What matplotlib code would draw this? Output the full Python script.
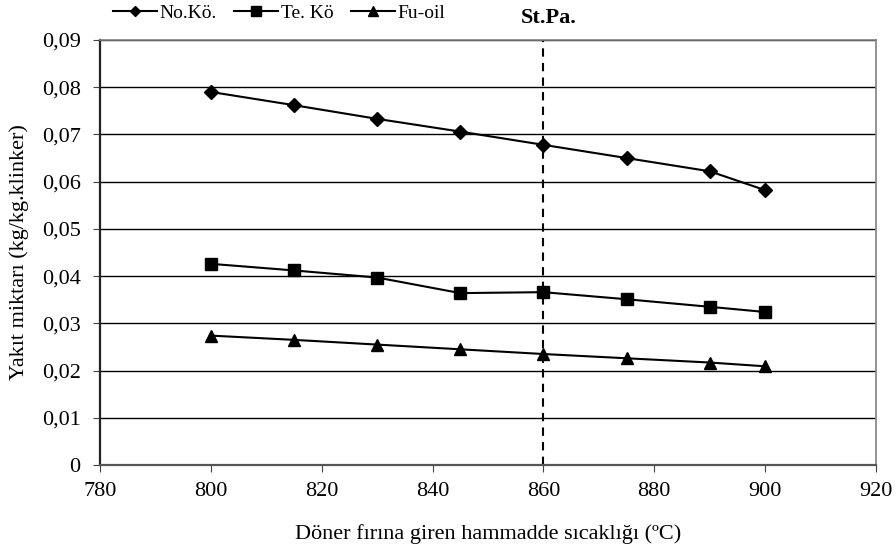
import matplotlib
matplotlib.use('Agg')
import matplotlib.pyplot as plt
from matplotlib.ticker import FuncFormatter, MultipleLocator

plt.rcParams['font.family'] = ['Liberation Serif', 'DejaVu Serif']

# sicaklik (C)
temps = [800, 815, 830, 845, 860, 875, 890, 900]
no_ko = [0.0790, 0.0762, 0.0733, 0.0706, 0.0678, 0.0650, 0.0622, 0.0582]
te_ko = [0.0426, 0.0412, 0.0397, 0.0364, 0.0366, 0.0351, 0.0335, 0.0324]
fu_oil = [0.0274, 0.0265, 0.0255, 0.0245, 0.0235, 0.0226, 0.0217, 0.0209]
labels = ['No.Kö.', 'Te. Kö', 'Fu-oil']
st_pa = 860

W, H = 896, 552
fig = plt.figure(figsize=(W / 100, H / 100), dpi=100)
# eksen kutusu (piksel olcumlerinden)
ax = fig.add_axes([100 / W, 1 - 465 / H, 776 / W, 425 / H])

ax.plot(temps, no_ko, color='black', lw=1.5, marker='D', ms=7, label=labels[0])
ax.plot(temps, te_ko, color='black', lw=1.5, marker='s', ms=9, label=labels[1])
ax.plot(temps, fu_oil, color='black', lw=1.5, marker='^', ms=9, label=labels[2])
ax.axvline(st_pa, color='black', lw=1.5, ls=(0, (4, 3)))
ax.text(st_pa + 1, 0.0925, 'St.Pa.', ha='center', va='bottom', fontsize=16, fontweight='bold')

ax.set_xlim(780, 920)
ax.set_ylim(0, 0.09)
ax.xaxis.set_major_locator(MultipleLocator(20))
ax.yaxis.set_major_locator(MultipleLocator(0.01))

def fmt(v, pos):
  if abs(v) < 1e-9:
    return '0'
  return ('%.2f' % v).replace('.', ',')
ax.yaxis.set_major_formatter(FuncFormatter(fmt))

ax.grid(axis='y', color='black', lw=1)
ax.set_axisbelow(True)
ax.tick_params(labelsize=16, direction='out', length=5, color='#444444')
ax.tick_params(axis='y', pad=9)
ax.tick_params(axis='x', pad=7)
for s in ax.spines.values():
  s.set_color('#808080')
  s.set_linewidth(1.2)
ax.spines['left'].set_color('#222222')
ax.spines['left'].set_linewidth(1.6)
ax.spines['bottom'].set_color('#555555')
ax.spines['bottom'].set_linewidth(1.6)

ax.set_xlabel('Döner fırına giren hammadde sıcaklığı (\u00baC)', fontsize=16)
ax.set_ylabel('Yakıt miktarı (kg/kg.klinker)', fontsize=16)
ax.xaxis.set_label_coords(0.5, -0.140)
ax.yaxis.set_label_coords(-0.092, 0.5)

fig.legend(loc='center left', bbox_to_anchor=(113 / W, 1 - 13 / H), ncol=3, frameon=False,
           fontsize=14, markerscale=0.75, handlelength=2.25, handletextpad=0.15,
           columnspacing=0.9, borderaxespad=0, borderpad=0)

fig.savefig('out.png', dpi=100)
